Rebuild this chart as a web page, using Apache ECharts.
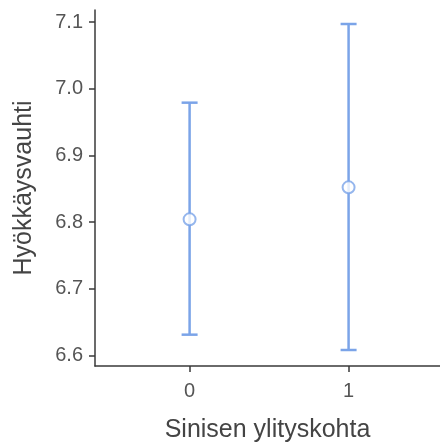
<!DOCTYPE html>
<html>
<head>
<meta charset="utf-8">
<script src="https://cdn.jsdelivr.net/npm/echarts@6/dist/echarts.min.js"></script>
<style>
  html, body { margin: 0; padding: 0; background: #fff; }
  #chart { width: 440px; height: 448px; }
</style>
</head>
<body>
<div id="chart"></div>
<script>
// data
const categories = ['0', '1']
const means = [6.804, 6.852]
const lower = [6.631, 6.608]
const upper = [6.979, 7.097]
const yTicks = [6.6, 6.7, 6.8, 6.9, 7.0, 7.1]

const barColor = '#7ba4e8'
const axisColor = '#3a3a3a'
const font = 'Liberation Sans, Arial, sans-serif'

const errData = categories.map((c, i) => [i, lower[i], upper[i]])
const meanData = categories.map((c, i) => [i, means[i]])

const chart = echarts.init(document.getElementById('chart'))

chart.setOption({
  animation: false,
  grid: { left: 95, right: 0, top: 10, bottom: 79 },
  xAxis: {
    type: 'value',
    min: -0.595,
    max: 1.575,
    name: 'Sinisen ylityskohta',
    nameLocation: 'middle',
    nameGap: 52,
    nameTextStyle: { fontSize: 25, color: '#444', fontFamily: font },
    splitLine: { show: false },
    axisLine: { onZero: false, lineStyle: { color: axisColor, width: 1.5 } },
    axisTick: { customValues: [0, 1], length: 6, lineStyle: { color: axisColor, width: 1.5 } },
    axisLabel: {
      customValues: [0, 1],
      margin: 15,
      fontSize: 20,
      color: '#555',
      fontFamily: font,
      formatter: v => categories[Math.round(v)],
    },
  },
  yAxis: {
    type: 'value',
    min: 6.584,
    max: 7.118,
    name: 'Hyökkäysvauhti',
    nameLocation: 'middle',
    nameGap: 58,
    nameTextStyle: { fontSize: 25, color: '#444', fontFamily: font },
    splitLine: { show: false },
    axisLine: { show: true, onZero: false, lineStyle: { color: axisColor, width: 1.5 } },
    axisTick: { show: true, customValues: yTicks, length: 6, lineStyle: { color: axisColor, width: 1.5 } },
    axisLabel: {
      customValues: yTicks,
      margin: 12,
      fontSize: 20,
      color: '#555',
      fontFamily: font,
      formatter: v => v.toFixed(1),
    },
  },
  series: [
    // 误差线
    {
      type: 'custom',
      data: errData,
      renderItem: (params, api) => {
        const x = api.value(0)
        const lo = api.coord([x, api.value(1)])
        const hi = api.coord([x, api.value(2)])
        const half = 8
        const style = { stroke: barColor, lineWidth: 2.5 }
        return {
          type: 'group',
          children: [
            { type: 'line', shape: { x1: lo[0], y1: lo[1], x2: hi[0], y2: hi[1] }, style },
            { type: 'line', shape: { x1: hi[0] - half, y1: hi[1], x2: hi[0] + half, y2: hi[1] }, style },
            { type: 'line', shape: { x1: lo[0] - half, y1: lo[1], x2: lo[0] + half, y2: lo[1] }, style },
          ],
        }
      },
      z: 2,
    },
    // 均值点
    {
      type: 'scatter',
      data: meanData,
      symbol: 'circle',
      symbolSize: 12,
      itemStyle: { color: '#fff', borderColor: barColor, borderWidth: 2 },
      z: 3,
    },
  ],
})
</script>
</body>
</html>
